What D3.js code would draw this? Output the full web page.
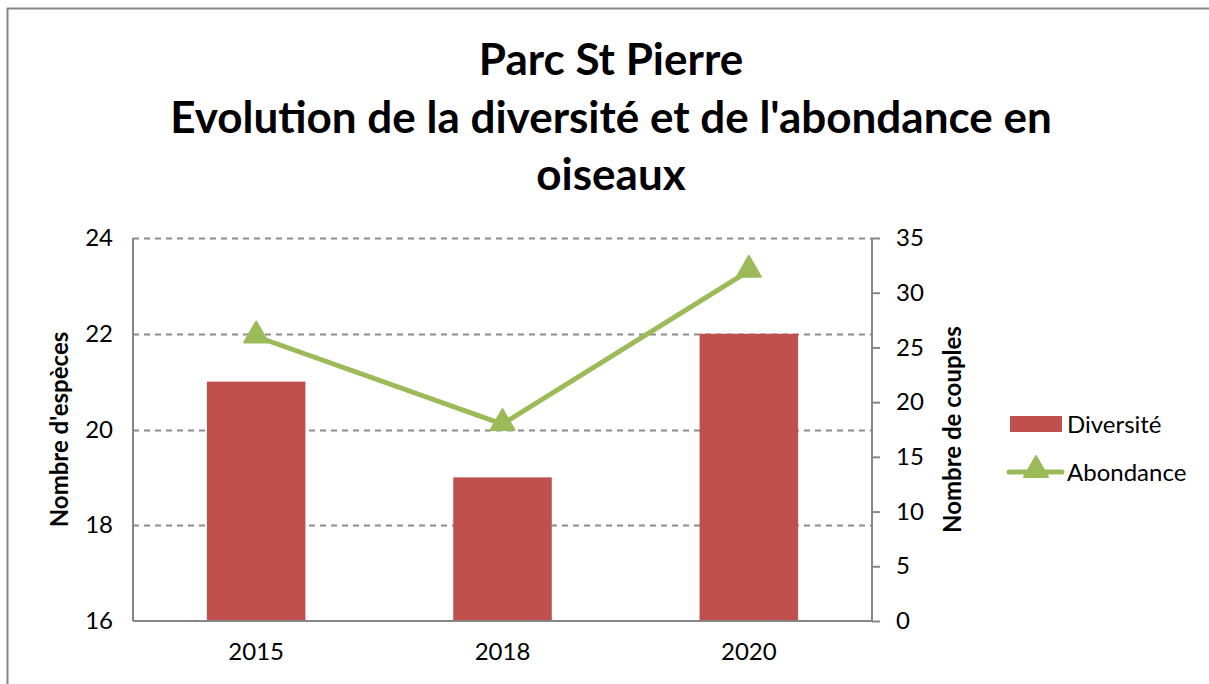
<!DOCTYPE html>
<html>
<head>
<meta charset="utf-8">
<script src="https://cdn.jsdelivr.net/npm/d3@7"></script>
<style>
  body { margin: 0; background: #fff; overflow: hidden; }
  svg { display: block; }
  text { font-family: Lato, "Open Sans", sans-serif; fill: #000; }
</style>
</head>
<body>
<div id="chart"></div>
<script>
var years = ["2015", "2018", "2020"];
var diversite = [21, 19, 22];      // Nombre d'espèces
var abondance = [26, 18, 32];      // Nombre de couples
var leftTicks = [16, 18, 20, 22, 24];
var rightTicks = [0, 5, 10, 15, 20, 25, 30, 35];
var titleLines = ["Parc St Pierre", "Evolution de la diversité et de l'abondance en", "oiseaux"];

var W = 1209, H = 684;
var margin = {top: 238, right: 337, bottom: 63, left: 133},
    width = W - margin.left - margin.right,
    height = H - margin.top - margin.bottom;

var svg = d3.select("#chart").append("svg")
    .attr("width", W)
    .attr("height", H);

// chart border: only top and left edges are inside the picture
svg.append("path")
    .attr("d", "M7.5," + H + "V8.5H" + W)
    .style("fill", "none")
    .style("stroke", "#868686")
    .style("stroke-width", 2);

// title
svg.append("g").selectAll("text")
    .data(titleLines)
    .enter().append("text")
    .attr("x", 611)
    .attr("y", function(d, i) { return 75 + i * 57.5; })
    .style("text-anchor", "middle")
    .style("font-weight", "bold")
    .style("font-size", "44px")
    .text(function(d) { return d; });

var chart = svg.append("g")
    .attr("transform", "translate(" + margin.left + "," + margin.top + ")");

var x = d3.scaleBand().domain(years).range([0, width]).padding(0);
var yL = d3.scaleLinear().domain([16, 24]).range([height, 0]);
var yR = d3.scaleLinear().domain([0, 35]).range([height, 0]);

// gridlines
chart.append("g").selectAll("line")
    .data(leftTicks.filter(function(d) { return d > 16; }))
    .enter().append("line")
    .attr("x1", 0).attr("x2", width)
    .attr("y1", function(d) { return Math.round(yL(d)) + 0.5; })
    .attr("y2", function(d) { return Math.round(yL(d)) + 0.5; })
    .style("stroke", "#8c8c8c")
    .style("stroke-width", 2)
    .style("stroke-dasharray", "6,5");

// bars
var barW = x.bandwidth() * 0.4;
chart.append("g").selectAll("rect")
    .data(diversite)
    .enter().append("rect")
    .attr("x", function(d, i) { return x(years[i]) + (x.bandwidth() - barW) / 2; })
    .attr("y", function(d) { return yL(d); })
    .attr("width", barW)
    .attr("height", function(d) { return height - yL(d); })
    .style("fill", "#C0504D");

// axes
var leftAxis = chart.append("g")
    .call(d3.axisLeft(yL).tickValues(leftTicks).tickSize(0).tickPadding(20));
var rightAxis = chart.append("g")
    .attr("transform", "translate(" + width + ",0)")
    .call(d3.axisRight(yR).tickValues(rightTicks).tickSize(8).tickPadding(16));
var bottomAxis = chart.append("g")
    .attr("transform", "translate(0," + height + ")")
    .call(d3.axisBottom(x).tickSize(0).tickPadding(22));

[leftAxis, rightAxis, bottomAxis].forEach(function(a) {
    a.selectAll("path").style("stroke", "#868686").style("stroke-width", 2);
    a.selectAll("line").style("stroke", "#868686").style("stroke-width", 2);
    a.selectAll("text").style("font-family", "Lato, sans-serif").style("font-size", "24px").style("fill", "#000");
});
leftAxis.select("path").attr("d", "M0,0V" + height);
rightAxis.select("path").attr("d", "M0,0V" + height);
bottomAxis.select("path").attr("d", "M0,0H" + width);

// line
var line = d3.line()
    .x(function(d, i) { return x(years[i]) + x.bandwidth() / 2; })
    .y(function(d) { return yR(d); });

chart.append("path")
    .datum(abondance)
    .attr("d", line)
    .style("fill", "none")
    .style("stroke", "#9BBB59")
    .style("stroke-width", 5)
    .style("stroke-linejoin", "round");

var tri = d3.symbol().type(d3.symbolTriangle).size(250);
chart.append("g").selectAll("path")
    .data(abondance)
    .enter().append("path")
    .attr("transform", function(d, i) {
        return "translate(" + (x(years[i]) + x.bandwidth() / 2) + "," + (yR(d) - 1) + ")";
    })
    .attr("d", tri)
    .style("fill", "#9BBB59")
    .style("stroke", "#9BBB59")
    .style("stroke-width", 2)
    .style("stroke-linejoin", "round");

// axis titles
svg.append("text")
    .attr("transform", "translate(68," + (margin.top + height / 2) + ") rotate(-90)")
    .style("text-anchor", "middle")
    .style("font-weight", "bold")
    .style("font-size", "24px")
    .text("Nombre d'espèces");

svg.append("text")
    .attr("transform", "translate(961," + (margin.top + height / 2) + ") rotate(-90)")
    .style("text-anchor", "middle")
    .style("font-weight", "bold")
    .style("font-size", "24px")
    .text("Nombre de couples");

// legend
var legend = svg.append("g");
legend.append("rect")
    .attr("x", 1010).attr("y", 416)
    .attr("width", 52).attr("height", 16)
    .style("fill", "#C0504D");
legend.append("text")
    .attr("x", 1067).attr("y", 433)
    .style("font-size", "24px")
    .text("Diversité");
legend.append("line")
    .attr("x1", 1009).attr("x2", 1062)
    .attr("y1", 472).attr("y2", 472)
    .style("stroke", "#9BBB59")
    .style("stroke-width", 5)
    .style("stroke-linecap", "round");
legend.append("path")
    .attr("transform", "translate(1036,470)")
    .attr("d", tri)
    .style("fill", "#9BBB59")
    .style("stroke", "#9BBB59")
    .style("stroke-width", 2)
    .style("stroke-linejoin", "round");
legend.append("text")
    .attr("x", 1067).attr("y", 481)
    .style("font-size", "24px")
    .text("Abondance");
</script>
</body>
</html>
